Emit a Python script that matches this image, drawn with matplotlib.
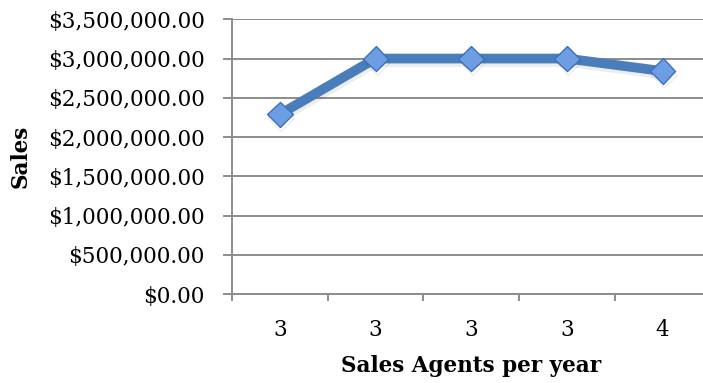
import numpy as np
import matplotlib.pyplot as plt
import matplotlib.patheffects as pe
from matplotlib.ticker import FuncFormatter

# 数据
agents = ['3', '3', '3', '3', '4']
sales = [2290000, 3000000, 3000000, 3000000, 2840000]

plt.rcParams['font.family'] = ['DejaVu Serif']

fig = plt.figure(figsize=(7.03, 3.83), dpi=100)
ax = fig.add_axes([232/703, 1-294/383, 478.5/703, 274.7/383])

x = np.arange(len(agents))
grid_c = '#8c8c8c'

# 线和菱形标记
ax.plot(x, sales, color='#4a7ebb', linewidth=7, solid_capstyle='butt', zorder=3,
        marker='D', markersize=13, markerfacecolor='#6d9de2', markeredgecolor='#3f70b5',
        markeredgewidth=1.0,
        path_effects=[pe.SimpleLineShadow(offset=(1, -2.5), alpha=0.07, shadow_color='black'),
                      pe.Normal()])

ax.set_xlim(-0.5, len(agents) - 0.5)
ax.set_ylim(0, 3500000)
ax.set_yticks(np.arange(0, 3500001, 500000))
ax.yaxis.set_major_formatter(FuncFormatter(lambda v, p: '${:,.2f}'.format(v)))
ax.set_xticks(x)
ax.set_xticklabels(agents)
ax.set_xticks(np.arange(-0.5, len(agents), 1), minor=True)

ax.grid(axis='y', color=grid_c, linewidth=1.4, zorder=0)
for s in ['top', 'right']:
    ax.spines[s].set_visible(False)
for s in ['left', 'bottom']:
    ax.spines[s].set_color(grid_c)
    ax.spines[s].set_linewidth(1.4)

ax.tick_params(axis='y', length=6.5, width=1.4, color=grid_c, labelsize=15.5, pad=13)
ax.tick_params(axis='x', which='major', length=0, labelsize=15.5, pad=18)
ax.tick_params(axis='x', which='minor', length=5, width=1.4, color=grid_c)

ax.set_xlabel('Sales Agents per year', fontsize=15.5, fontweight='bold', va='top')
ax.xaxis.set_label_coords(0.5, -0.222)
ax.set_ylabel('Sales', fontsize=15.5, fontweight='bold')
ax.yaxis.set_label_coords(-0.418, 0.5)

plt.savefig('out.png', dpi=100)
